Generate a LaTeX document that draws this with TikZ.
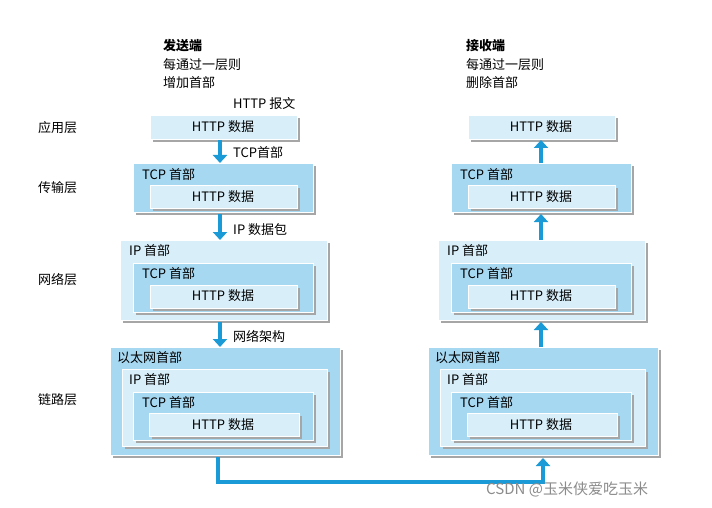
\documentclass[tikz,border=0pt]{standalone}
\usepackage{fontspec}
\setmainfont{Noto Sans CJK SC}
\usetikzlibrary{arrows.meta}
\definecolor{dk}{HTML}{A6D8F2}
\definecolor{lt}{HTML}{D8EFFA}
\definecolor{ar}{HTML}{1A9AD6}
\tikzset{
 bx/.style={draw=white,line width=0.6pt,fill=#1,anchor=north west,inner sep=0pt,
   preaction={fill=gray!70,transform canvas={xshift=3pt,yshift=-3pt}}},
 lab/.style={font=\fontsize{13}{14}\selectfont,inner sep=0pt,anchor=west},
 arr/.style={draw=ar,line width=4pt,-{Triangle[length=8pt,width=14pt]}},
}
\newcommand{\bxx}[6]{\node[bx=#6,minimum width=#3-#1,minimum height=#4-#2] (#5) at (#1,#2) {};}
\begin{document}
\begin{tikzpicture}[x=1pt,y=-1pt]
\fill[white] (0,0) rectangle (712,508);
\useasboundingbox (0,0) rectangle (712,508);
\foreach \dx/\s in {0/L,318/R}{
 \begin{scope}[xshift=\dx]
 \bxx{150}{115}{297}{139}{a\s}{lt}
 \node[lab,anchor=center] at (223,127) {HTTP 数据};
 \bxx{133}{163}{313}{212}{t\s}{dk}
 \bxx{150}{185}{297}{208}{th\s}{lt}
 \node[lab] at (142,175) {TCP 首部};
 \node[lab,anchor=center] at (223,197) {HTTP 数据};
 \bxx{120}{240}{327}{320}{n\s}{lt}
 \bxx{133}{263}{313}{312}{nt\s}{dk}
 \bxx{150}{285}{297}{308}{nh\s}{lt}
 \node[lab] at (129,251) {IP 首部};
 \node[lab] at (142,274) {TCP 首部};
 \node[lab,anchor=center] at (223,296) {HTTP 数据};
 \bxx{110}{347}{340}{455}{e\s}{dk}
 \bxx{122}{369}{327}{446}{ei\s}{lt}
 \bxx{133}{392}{313}{440}{et\s}{dk}
 \bxx{149}{413}{299}{436}{eh\s}{lt}
 \node[lab] at (117,358) {以太网首部};
 \node[lab] at (129,380) {IP 首部};
 \node[lab] at (142,403) {TCP 首部};
 \node[lab,anchor=center] at (223,425) {HTTP 数据};
 \end{scope}}
\node[lab] (l1) at (38,128) {应用层};
\node[lab] (l2) at (38,188) {传输层};
\node[lab] (l3) at (38,280) {网络层};
\node[lab] (l4) at (38,400) {链路层};
\node[lab,font=\fontsize{13}{14}\selectfont\bfseries] (s0) at (163,46) {发送端};
\node[lab] (s1) at (163,65) {每通过一层则};
\node[lab] (s2) at (163,83) {增加首部};
\node[lab,font=\fontsize{13}{14}\selectfont\bfseries] (r0) at (466,46) {接收端};
\node[lab] (r1) at (466,65) {每通过一层则};
\node[lab] (r2) at (466,83) {删除首部};
\node[lab] (hm) at (233,104) {HTTP 报文};
\coordinate (d1a) at (220,140); \coordinate (d1b) at (220,163);
\coordinate (d2a) at (220,214); \coordinate (d2b) at (220,240);
\coordinate (d3a) at (220,322); \coordinate (d3b) at (220,347);
\draw[arr] (d1a) -- (d1b);
\draw[arr] (d2a) -- (d2b);
\draw[arr] (d3a) -- (d3b);
\node[lab] (x1) at (233,153) {TCP首部};
\node[lab] (x2) at (233,230) {IP 数据包};
\node[lab] (x3) at (233,336) {网络架构};
\draw[arr] (541,163) -- (541,140);
\draw[arr] (541,240) -- (541,214);
\draw[arr] (541,347) -- (541,322);
\draw[arr] (218,457) -- (218,482) -- (543,482) -- (543,458);
\node[lab,text=gray!90,font=\fontsize{15}{16}\selectfont] (wm) at (486,489) {CSDN @玉米侠爱吃玉米};
\end{tikzpicture}
\end{document}
